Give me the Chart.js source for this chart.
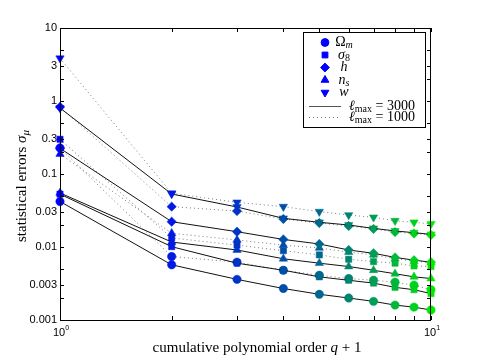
<!DOCTYPE html>
<html>
<head>
<meta charset="utf-8">
<script src="https://cdn.jsdelivr.net/npm/chart.js@4.4.0/dist/chart.umd.min.js"></script>
<style>
  html, body { margin: 0; padding: 0; background: #fff; }
  #wrap { width: 477px; height: 361px; position: relative; }
</style>
</head>
<body>
<div id="wrap"><canvas id="errChart"></canvas></div>
<script>
// cumulative polynomial order q + 1
const qOrder = [1, 2, 3, 4, 5, 6, 7, 8, 9, 10];

// statistical errors, l_max = 3000 (solid) and l_max = 1000 (dotted)
const omegaM3000 = [0.042, 0.0057, 0.0036, 0.0027, 0.00225, 0.0020, 0.0018, 0.0016, 0.0015, 0.00137];
const omegaM1000 = [0.227, 0.0074, 0.0062, 0.0048, 0.0041, 0.0037, 0.0035, 0.0033, 0.0030, 0.0026];
const sigma83000 = [0.053, 0.0101, 0.0060, 0.0048, 0.0039, 0.0035, 0.0032, 0.0028, 0.0026, 0.0023];
const sigma81000 = [0.299, 0.0133, 0.0106, 0.0089, 0.0078, 0.0068, 0.0063, 0.0060, 0.0055, 0.0054];
const h3000 = [0.225, 0.0222, 0.0162, 0.0127, 0.0110, 0.0091, 0.0082, 0.0072, 0.0066, 0.0062];
const h1000 = [0.828, 0.0357, 0.0311, 0.0242, 0.0213, 0.0194, 0.0177, 0.0160, 0.0153, 0.0146];
const ns3000 = [0.055, 0.0117, 0.0091, 0.0069, 0.0060, 0.0054, 0.0048, 0.0043, 0.0039, 0.0037];
const ns1000 = [0.188, 0.0154, 0.0125, 0.0106, 0.0097, 0.0085, 0.0078, 0.0069, 0.0064, 0.0061];
const w3000 = [0.80, 0.0532, 0.0353, 0.0247, 0.0218, 0.0200, 0.0180, 0.0166, 0.0157, 0.0149];
const w1000 = [3.85, 0.0545, 0.0409, 0.0357, 0.0305, 0.0274, 0.0255, 0.0229, 0.0218, 0.0207];

// axis ticks
const yTickVals = [0.001, 0.002, 0.003, 0.005, 0.01, 0.02, 0.03, 0.05, 0.1, 0.2, 0.3, 0.5, 1, 2, 3, 5, 10];
const yTickLabels = ["0.001", "", "0.003", "", "0.01", "", "0.03", "", "0.1", "", "0.3", "", "1", "", "3", "", "10"];
const xTickVals = [1, 2, 3, 4, 5, 6, 7, 8, 9, 10];
const xTickLabels = [["10", "0"], null, null, null, null, null, null, null, null, ["10", "1"]];

const SERIF = '"Liberation Serif", "Times New Roman", serif';
const SANS = '"Liberation Sans", Arial, sans-serif';

// blue -> green along q
const pointColors = qOrder.map((q, i) => {
  const t = i / (qOrder.length - 1);
  return `rgb(0, ${Math.round(235 * t)}, ${Math.round(255 * (1 - t))})`;
});

const markers = {
  omega: { pointStyle: "circle", radius: 4.2 },
  sigma: { pointStyle: "rect", radius: 4.4 },
  h: { pointStyle: "rectRot", radius: 4.7 },
  ns: { pointStyle: "triangle", radius: 4.8, rotation: 0 },
  w: { pointStyle: "triangle", radius: 4.8, rotation: 180 },
};

function makeSet(label, values, marker, dotted) {
  return {
    label,
    data: values.map((v, i) => ({ x: qOrder[i], y: v })),
    borderColor: dotted ? "#7a7a7a" : "#111",
    borderWidth: 1,
    borderDash: dotted ? [1, 3] : [],
    pointStyle: marker.pointStyle,
    pointRadius: marker.radius,
    pointRotation: marker.rotation || 0,
    pointBackgroundColor: pointColors,
    pointBorderColor: pointColors,
    pointBorderWidth: 0.5,
    fill: false,
    tension: 0,
    clip: false,
  };
}

function drawRich(ctx, parts, x, y, align) {
  let total = 0;
  parts.forEach((p) => { ctx.font = p.font; total += ctx.measureText(p.text).width; });
  let cx = align === "center" ? x - total / 2 : x;
  parts.forEach((p) => {
    ctx.font = p.font;
    ctx.fillText(p.text, cx, y + (p.dy || 0));
    cx += ctx.measureText(p.text).width;
  });
}

const framePlugin = {
  id: "frame",
  afterDraw(chart) {
    const { ctx, chartArea: a, scales } = chart;
    const xs = scales.x, ys = scales.y;
    ctx.save();
    ctx.strokeStyle = "#000";
    ctx.lineWidth = 1;
    ctx.strokeRect(a.left + 0.5, a.top + 0.5, a.right - a.left - 1, a.bottom - a.top);

    // inward ticks
    ctx.beginPath();
    yTickVals.forEach((v) => {
      const p = Math.round(ys.getPixelForValue(v)) + 0.5;
      ctx.moveTo(a.left, p); ctx.lineTo(a.left + 4, p);
      ctx.moveTo(a.right, p); ctx.lineTo(a.right - 4, p);
    });
    xTickVals.forEach((v) => {
      const p = Math.round(xs.getPixelForValue(v)) + 0.5;
      ctx.moveTo(p, a.bottom); ctx.lineTo(p, a.bottom - 4);
      ctx.moveTo(p, a.top); ctx.lineTo(p, a.top + 4);
    });
    ctx.stroke();

    // x tick labels 10^0, 10^1
    ctx.fillStyle = "#000";
    ctx.textBaseline = "alphabetic";
    xTickVals.forEach((v, i) => {
      const lab = xTickLabels[i];
      if (!lab) return;
      const p = xs.getPixelForValue(v);
      drawRich(ctx, [
        { text: lab[0], font: `11px ${SANS}` },
        { text: lab[1], font: `7px ${SANS}`, dy: -6 },
      ], p + 1, a.bottom + 16, "center");
    });

    // axis titles
    drawRich(ctx, [
      { text: "cumulative polynomial order ", font: `15px ${SERIF}` },
      { text: "q", font: `italic 15px ${SERIF}` },
      { text: " + 1", font: `15px ${SERIF}` },
    ], 257, 352, "center");

    ctx.save();
    ctx.translate(26, 186);
    ctx.rotate(-Math.PI / 2);
    drawRich(ctx, [
      { text: "statistical errors ", font: `15px ${SERIF}` },
      { text: "σ", font: `italic 15px ${SERIF}` },
      { text: "μ", font: `italic 11px ${SERIF}`, dy: 3 },
    ], 0, 0, "center");
    ctx.restore();

    // legend
    const lx = 303.5, ly = 32.5, lw = 122, lh = 95;
    ctx.fillStyle = "#fff";
    ctx.fillRect(lx, ly, lw, lh);
    ctx.strokeStyle = "#000";
    ctx.strokeRect(lx, ly, lw, lh);

    const entries = [
      { m: markers.omega, y: 42.5, parts: [
        { text: "Ω", font: `14px ${SERIF}` },
        { text: "m", font: `italic 10px ${SERIF}`, dy: 3 } ] },
      { m: markers.sigma, y: 55, parts: [
        { text: "σ", font: `italic 14px ${SERIF}` },
        { text: "8", font: `10px ${SERIF}`, dy: 3 } ] },
      { m: markers.h, y: 67.5, parts: [
        { text: "h", font: `italic 14px ${SERIF}` } ] },
      { m: markers.ns, y: 80, parts: [
        { text: "n", font: `italic 14px ${SERIF}` },
        { text: "s", font: `italic 10px ${SERIF}`, dy: 3 } ] },
      { m: markers.w, y: 92.5, parts: [
        { text: "w", font: `italic 14px ${SERIF}` } ] },
    ];
    ctx.textBaseline = "middle";
    entries.forEach((e) => {
      ctx.fillStyle = "#0000ff";
      ctx.strokeStyle = "#0000ff";
      Chart.helpers.drawPoint(ctx, {
        pointStyle: e.m.pointStyle, radius: e.m.radius - 0.3,
        rotation: e.m.rotation || 0, borderWidth: 0.5,
      }, 325, e.y);
      ctx.fillStyle = "#000";
      drawRich(ctx, e.parts, 344, e.y, "center");
    });

    const lineEntries = [
      { y: 106.5, dotted: false, val: "3000" },
      { y: 117.5, dotted: true, val: "1000" },
    ];
    lineEntries.forEach((e) => {
      ctx.beginPath();
      ctx.strokeStyle = e.dotted ? "#7a7a7a" : "#555";
      ctx.setLineDash(e.dotted ? [1, 3] : []);
      ctx.moveTo(309, e.y); ctx.lineTo(341, e.y);
      ctx.stroke();
      ctx.setLineDash([]);
      ctx.fillStyle = "#000";
      drawRich(ctx, [
        { text: "ℓ", font: `italic 14px ${SERIF}` },
        { text: "max", font: `10px ${SERIF}`, dy: 3 },
        { text: " = " + e.val, font: `14px ${SERIF}` },
      ], 349, e.y, "left");
    });
    ctx.restore();
  },
};

new Chart(document.getElementById("errChart"), {
  type: "line",
  data: {
    datasets: [
      makeSet("Ω_m 3000", omegaM3000, markers.omega, false),
      makeSet("σ_8 3000", sigma83000, markers.sigma, false),
      makeSet("h 3000", h3000, markers.h, false),
      makeSet("n_s 3000", ns3000, markers.ns, false),
      makeSet("w 3000", w3000, markers.w, false),
      makeSet("Ω_m 1000", omegaM1000, markers.omega, true),
      makeSet("σ_8 1000", sigma81000, markers.sigma, true),
      makeSet("h 1000", h1000, markers.h, true),
      makeSet("n_s 1000", ns1000, markers.ns, true),
      makeSet("w 1000", w1000, markers.w, true),
    ],
  },
  options: {
    responsive: true,
    maintainAspectRatio: false,
    animation: false,
    layout: { padding: { left: 0, top: 28, right: 46, bottom: 0 } },
    plugins: { legend: { display: false }, tooltip: { enabled: false } },
    scales: {
      x: {
        type: "logarithmic",
        min: 1,
        max: 10,
        grid: { display: false, drawTicks: false },
        border: { display: false },
        ticks: { display: false },
        afterFit: (scale) => { scale.height = 41; },
      },
      y: {
        type: "logarithmic",
        min: 0.001,
        max: 10,
        grid: { display: false, drawTicks: false },
        border: { display: false },
        afterBuildTicks: (scale) => {
          scale.ticks = yTickVals.map((v) => ({ value: v }));
        },
        ticks: {
          autoSkip: false,
          padding: 3,
          color: "#000",
          font: { family: SANS, size: 11 },
          callback: (value) => {
            const i = yTickVals.indexOf(value);
            return i >= 0 ? yTickLabels[i] : "";
          },
        },
        afterFit: (scale) => { scale.width = 60; },
      },
    },
  },
  plugins: [framePlugin],
});
</script>
</body>
</html>
